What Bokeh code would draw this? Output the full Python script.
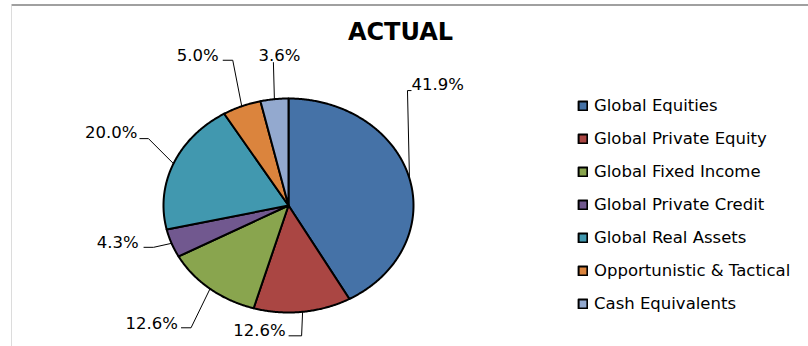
import numpy as np
from bokeh.plotting import figure
from bokeh.models import ColumnDataSource, Range1d, Label
from bokeh.embed import file_html
from bokeh.resources import INLINE
from bokeh.core.properties import value

# ---------------- data ----------------
categories = ["Global Equities", "Global Private Equity", "Global Fixed Income",
              "Global Private Credit", "Global Real Assets",
              "Opportunistic & Tactical", "Cash Equivalents"]
shares = [41.9, 12.6, 12.6, 4.3, 20.0, 5.0, 3.6]
colors = ["#4572A7", "#AA4643", "#89A54E", "#71588F", "#4198AF", "#DB843D", "#93A9CF"]

# ---------------- layout ----------------
W, H = 808, 346
CX, CY, RX, RY = 288, 205, 125, 107          # pie centre and radii (px)
# leader line: elbow offset from the slice's edge midpoint, then horizontal tail
elbow_dx = [-2, -1, -19, -18, -25, -9, -1]
elbow_dy = [-88, 24, 39, 4, -25, -46, -37]
tail = [4, -13, -10, -10, -9, -10, 0]
text_dx = [0, -3, -3, -5, -2, -4, 6]
text_dy = [-6, -5, -4, -5, -6, -5, -7]
text_al = ["left", "right", "right", "right", "right", "right", "center"]

FONT = "DejaVu Sans"

p = figure(width=W, height=H, x_range=Range1d(0, W), y_range=Range1d(H, 0),
           output_backend="svg", toolbar_location=None, min_border=0,
           x_axis_type=None, y_axis_type=None)
p.grid.visible = False
p.outline_line_color = None

# frame borders (top and left edge of the chart area)
p.segment(x0=[11], y0=[4.5], x1=[W], y1=[4.5], line_color="#a0a0a0", line_width=2)
p.segment(x0=[11], y0=[5.5], x1=[11], y1=[H], line_color="#dcdcdc", line_width=1)

# slices
total = float(sum(shares))
cum = np.concatenate([[0.0], np.cumsum(shares)]) / total * 2 * np.pi
xs, ys, ex, ey = [], [], [], []
for i in range(len(shares)):
    a0, a1 = cum[i], cum[i + 1]
    n = max(4, int(np.degrees(a1 - a0) * 2))
    t = np.linspace(a0, a1, n)
    xs.append([CX] + list(CX + RX * np.sin(t)) + [CX])
    ys.append([CY] + list(CY - RY * np.cos(t)) + [CY])
    am = (a0 + a1) / 2
    ex.append(CX + RX * np.sin(am))
    ey.append(CY - RY * np.cos(am))

src = ColumnDataSource(dict(xs=xs, ys=ys, color=colors, name=categories))
p.patches(xs="xs", ys="ys", fill_color="color", line_color="black", line_width=2,
          line_join="round", legend_field="name", source=src)

# leader lines and labels
lx, ly = [], []
tx, ty, tt = [], [], []
for i in range(len(shares)):
    bx, by = ex[i] + elbow_dx[i], ey[i] + elbow_dy[i]
    cx2 = bx + tail[i]
    lx.append([ex[i], bx, cx2])
    ly.append([ey[i], by, by])
    tx.append(cx2 + text_dx[i])
    ty.append(by + text_dy[i])
    tt.append(f"{shares[i]:.1f}%")
p.multi_line(xs=lx, ys=ly, line_color="black", line_width=1)

for al in ["left", "right", "center"]:
    idx = [i for i in range(len(shares)) if text_al[i] == al]
    s = ColumnDataSource(dict(x=[tx[i] for i in idx], y=[ty[i] for i in idx],
                              t=[tt[i] for i in idx]))
    p.text(x="x", y="y", text="t", source=s, text_align=al, text_baseline="middle",
           text_font=value(FONT), text_font_size="16.5px", text_color="black")

p.add_layout(Label(x=400, y=31, text="ACTUAL", text_align="center",
                   text_baseline="middle", text_font=FONT, text_font_size="24px",
                   text_font_style="bold", text_color="black"))

leg = p.legend[0]
leg.location = (577, H - 313)
leg.padding = 0
leg.margin = 0
leg.border_line_color = None
leg.background_fill_alpha = 0
leg.glyph_width = 11
leg.glyph_height = 11
leg.label_standoff = 6
leg.label_height = 20
leg.spacing = 13
leg.label_text_font = FONT
leg.label_text_font_size = "16.5px"
leg.label_text_color = "black"

open("out.html", "w").write(file_html(p, INLINE))
